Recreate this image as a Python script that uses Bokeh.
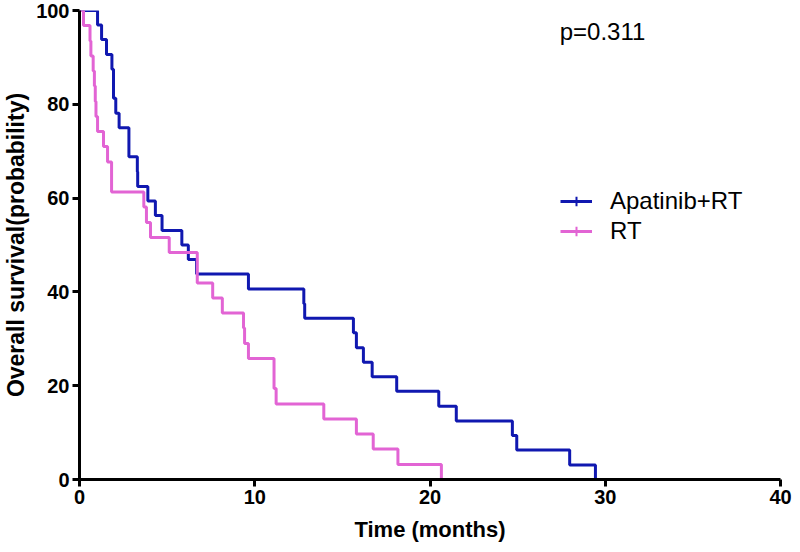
from bokeh.plotting import figure
from bokeh.models import Legend, LegendItem, Label, Range1d, FixedTicker
from bokeh.embed import file_html
from bokeh.resources import INLINE

# Apatinib+RT (Kaplan-Meier, months / % surviving)
apa_time = [0, 1.03, 1.26, 1.54, 1.85, 1.94, 2.07, 2.26, 2.82, 3.30, 3.32, 3.90, 4.33, 4.71,
            5.84, 6.21, 6.68, 9.64, 12.80, 12.85, 15.63, 15.80, 16.20, 16.70, 18.10, 20.50,
            21.50, 24.70, 24.95, 27.97, 29.44]
apa_surv = [100, 96.9, 93.8, 90.6, 87.5, 81.3, 78.1, 75.0, 68.8, 65.6, 62.5, 59.4, 56.3, 53.1,
            50.0, 46.9, 43.8, 40.6, 37.5, 34.4, 31.3, 28.1, 25.0, 21.9, 18.8, 15.6,
            12.5, 9.4, 6.3, 3.1, 0]

# RT
rt_time = [0, 0.23, 0.60, 0.65, 0.78, 0.85, 0.90, 0.94, 1.03, 1.37, 1.60, 1.83, 3.67, 3.82,
           4.05, 5.12, 6.72, 7.60, 8.15, 9.36, 9.42, 9.64, 11.10, 11.22, 13.94, 15.80, 16.76,
           18.17, 20.65]
rt_surv = [100, 96.8, 93.5, 90.3, 87.1, 83.9, 80.6, 77.4, 74.2, 71.0, 67.7, 61.3, 58.1, 54.8,
           51.6, 48.4, 41.9, 38.7, 35.5, 32.3, 29.0, 25.8, 19.4, 16.1, 12.9, 9.7, 6.5,
           3.2, 0]

series_names = ["Apatinib+RT", "RT"]
x_ticks = [0, 10, 20, 30, 40]
y_ticks = [0, 20, 40, 60, 80, 100]
p_value_text = "p=0.311"

BLUE = "#1018B0"
PINK = "#E264D4"
FONT = "Liberation Sans"
NAN = float("nan")

p = figure(width=792, height=550, output_backend="svg", toolbar_location=None,
           x_range=Range1d(0, 40), y_range=Range1d(0, 100),
           min_border_left=72, min_border_right=12, min_border_top=10, min_border_bottom=71)
p.outline_line_color = None
p.grid.visible = False
p.background_fill_color = "white"

r1 = p.step(apa_time, apa_surv, mode="after", line_color=BLUE, line_width=3)
r2 = p.step(rt_time, rt_surv, mode="after", line_color=PINK, line_width=3)

for ax, ticks in ((p.xaxis[0], x_ticks), (p.yaxis[0], y_ticks)):
    ax.ticker = FixedTicker(ticks=ticks)
    ax.minor_tick_line_color = None
    ax.axis_line_width = 3
    ax.major_tick_line_width = 3
    ax.major_tick_out = 7
    ax.major_tick_in = 0
    ax.axis_line_color = "black"
    ax.major_tick_line_color = "black"
    ax.major_label_text_font = FONT
    ax.major_label_text_font_style = "bold"
    ax.major_label_text_font_size = "20px"
    ax.major_label_text_color = "black"
    ax.axis_label_text_font = FONT
    ax.axis_label_text_font_style = "bold"
    ax.axis_label_text_color = "black"

p.xaxis.axis_label = "Time (months)"
p.xaxis.axis_label_text_font_size = "22px"
p.xaxis.major_label_standoff = 3
p.xaxis.axis_label_standoff = 10
p.yaxis.axis_label = "Overall survival(probability)"
p.yaxis.axis_label_text_font_size = "23px"
p.yaxis.major_label_standoff = 3
p.yaxis.axis_label_standoff = 4

# legend censor-tick samples (no visible points on the plot)
t1 = p.scatter([NAN], [NAN], marker="cross", size=9, line_color=BLUE, line_width=2)
t2 = p.scatter([NAN], [NAN], marker="cross", size=9, line_color=PINK, line_width=2)

legend = Legend(items=[LegendItem(label=series_names[0], renderers=[r1, t1]),
                       LegendItem(label=series_names[1], renderers=[r2, t2])],
                location=(481, 234), padding=0, margin=0, spacing=2,
                glyph_width=32, glyph_height=24, label_height=24, label_standoff=18,
                label_text_font=FONT, label_text_font_size="24px", label_text_color="black",
                border_line_color=None, background_fill_alpha=0)
p.add_layout(legend)

p.add_layout(Label(x=27.4, y=95.5, text=p_value_text, text_font=FONT, text_font_size="24px",
                   text_baseline="middle", text_color="black"))

open("out.html", "w").write(file_html(p, INLINE))
